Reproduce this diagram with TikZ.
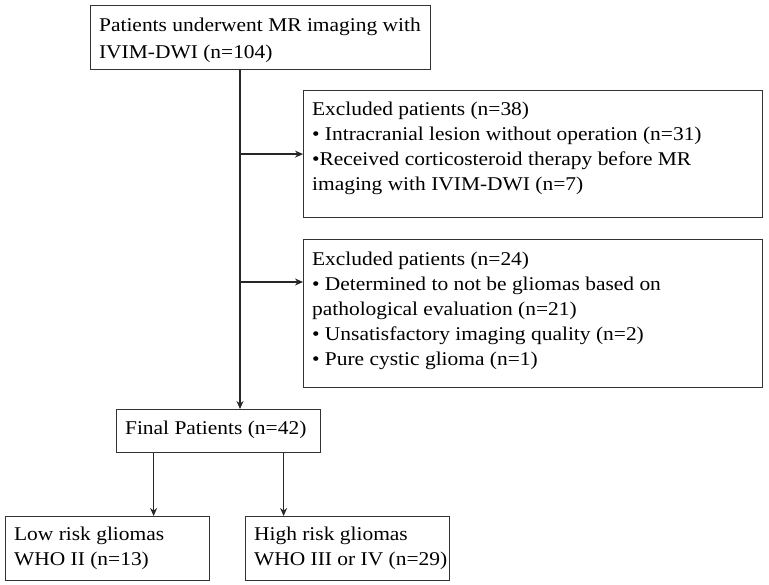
\documentclass[tikz,border=0pt]{standalone}
\usepackage{fontspec}
\setmainfont[FakeStretch=1.1]{Liberation Serif}
\usetikzlibrary{arrows.meta}
\newcommand{\bt}[4]{\parbox[b][#2][t]{#1}{\vspace*{#3}\raggedright\strut #4}}
\begin{document}
\begin{tikzpicture}[x=1pt,y=-1pt,
  font=\fontsize{19.5}{25}\selectfont,
  box/.style={draw=black!80,line width=1.2pt,inner xsep=8.5pt,inner ysep=0pt,anchor=north west},
  arr/.style={line width=1.2pt,draw=black!85,-{Stealth[length=8pt,width=7pt]}}]
\useasboundingbox (0,0) rectangle (769,585);
\node[box] (pat) at (90,5) {\bt{323pt}{64pt}{8pt}{Patients underwent MR imaging with\\[2pt]IVIM-DWI (n=104)}};
\node[box] (ex1) at (303,90) {\bt{442pt}{127pt}{7.5pt}{Excluded patients (n=38)\\\textbullet\ Intracranial lesion without operation (n=31)\\\textbullet Received corticosteroid therapy before MR\\imaging with IVIM-DWI (n=7)}};
\node[box] (ex2) at (303,239) {\bt{442pt}{148pt}{8.5pt}{Excluded patients (n=24)\\\textbullet\ Determined to not be gliomas based on\\pathological evaluation (n=21)\\\textbullet\ Unsatisfactory imaging quality (n=2)\\\textbullet\ Pure cystic glioma (n=1)}};
\node[box] (fin) at (116,409) {\bt{187pt}{43pt}{7.5pt}{Final Patients (n=42)}};
\node[box] (low) at (5,516) {\bt{187pt}{64pt}{6.5pt}{Low risk gliomas\\\mbox{WHO II (n=13)}}};
\node[box] (high) at (245,516) {\bt{187pt}{64pt}{6.5pt}{High risk gliomas\\\mbox{WHO III or IV (n=29)}}};
\coordinate (s) at (240,0);
\coordinate (j2) at (240,282);
\draw[arr] (pat.south -| s) -- (fin.north -| s);
\draw[arr] (ex1.west -| s) -- (ex1.west);
\draw[arr] (j2) -- (j2 -| ex2.west);
\draw[arr] ([xshift=-65pt]fin.south) -- ([xshift=-65pt]fin.south |- low.north);
\draw[arr] ([xshift=65pt]fin.south) -- ([xshift=65pt]fin.south |- high.north);
\end{tikzpicture}
\end{document}
